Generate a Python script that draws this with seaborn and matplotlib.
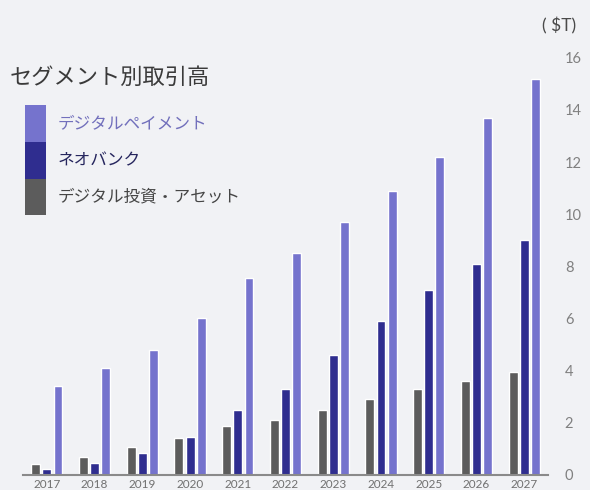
import seaborn as sns
import pandas as pd
import matplotlib.pyplot as plt
from matplotlib.patches import Patch

years = ["2017", "2018", "2019", "2020", "2021", "2022", "2023", "2024", "2025", "2026", "2027"]
invest = [0.4, 0.7, 1.06, 1.41, 1.87, 2.1, 2.5, 2.9, 3.3, 3.6, 3.95]
neobank = [0.24, 0.47, 0.82, 1.45, 2.47, 3.3, 4.6, 5.9, 7.1, 8.1, 9.0]
payment = [3.4, 4.1, 4.8, 6.0, 7.55, 8.5, 9.7, 10.9, 12.2, 13.7, 15.2]

series_names = ["デジタル投資・アセット", "ネオバンク", "デジタルペイメント"]
colors = ["#5c5c5c", "#2f2d8f", "#7573cd"]
text_colors = ["#464646", "#26265e", "#7270bc"]

df = pd.DataFrame({
    "year": years * 3,
    "value": invest + neobank + payment,
    "series": [series_names[0]] * len(years) + [series_names[1]] * len(years) + [series_names[2]] * len(years),
})

sns.set_theme(style="white")
plt.rcParams['font.family'] = ['Noto Sans CJK JP', 'DejaVu Sans']

fig = plt.figure(figsize=(5.9, 4.9), dpi=100)
fig.patch.set_facecolor("#f1f2f5")
ax = fig.add_axes([0.039, 0.031, 0.89, 0.851])
ax.set_facecolor("none")

sns.barplot(data=df, x="year", y="value", hue="series", hue_order=series_names,
            palette=colors, width=0.7, gap=0.2, saturation=1, legend=False, ax=ax)

ax.set_xlim(-0.5, 10.5)
ax.set_ylim(0, 16)
ax.set_yticks(range(0, 17, 2))
ax.yaxis.tick_right()
ax.set_xlabel("")
ax.set_ylabel("")
ax.tick_params(axis="y", length=0, pad=12, labelsize=10.5, labelcolor="#808080")
ax.tick_params(axis="x", length=0, pad=3, labelsize=8.5, labelcolor="#707070")
for lab in ax.get_yticklabels():
    lab.set_fontfamily(["Lato", "DejaVu Sans"])
for lab in ax.get_xticklabels():
    lab.set_fontfamily(["Lato", "DejaVu Sans"])
for s in ["top", "left", "right"]:
    ax.spines[s].set_visible(False)
ax.spines["bottom"].set_color("#8a8a8a")
ax.spines["bottom"].set_linewidth(1.5)

fig.text(0.919, 0.947, "( $T)", fontsize=12.5, color="#4a4a4a", ha="left", va="center",
         family=["Lato", "DejaVu Sans"])
fig.text(0.017, 0.841, "セグメント別取引高", fontsize=16, color="#3a3a3a", ha="left", va="center")

handles = [Patch(facecolor=colors[i], edgecolor="none") for i in [2, 1, 0]]
labels = [series_names[i] for i in [2, 1, 0]]
leg = fig.legend(handles, labels, loc="upper left", bbox_to_anchor=(0.042, 0.785),
                 frameon=False, fontsize=12, handlelength=1.3, handleheight=3.0,
                 handletextpad=0.66, labelspacing=0.0, borderpad=0, borderaxespad=0)
for t, c in zip(leg.get_texts(), [text_colors[i] for i in [2, 1, 0]]):
    t.set_color(c)

fig.savefig("out.png", dpi=100)
